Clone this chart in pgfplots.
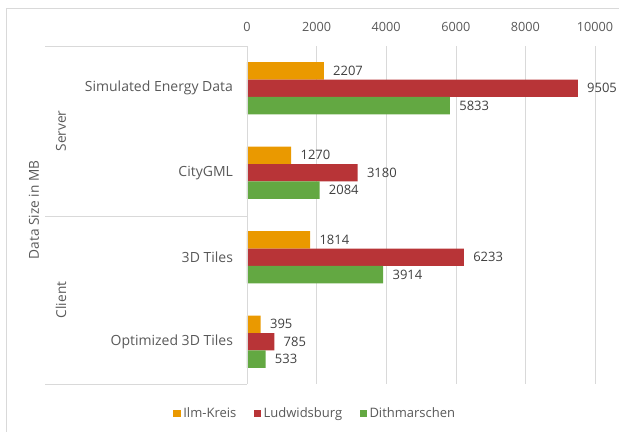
\documentclass[border=0pt]{standalone}
\usepackage{fontspec}
\setmainfont{Open Sans}
\usepackage{pgfplots}
\pgfplotsset{compat=1.18}
\definecolor{ilm}{RGB}{234,153,0}
\definecolor{lud}{RGB}{184,52,55}
\definecolor{dit}{RGB}{99,168,66}
\definecolor{txtgray}{RGB}{89,89,89}
\definecolor{valgray}{RGB}{64,64,64}
\definecolor{linegray}{RGB}{217,217,217}
\begin{document}
\begin{tikzpicture}[x=0.75pt,y=0.75pt,font=\fontsize{10}{12}\selectfont]
\useasboundingbox (0,0) rectangle (619,432);
\draw[linegray] (6,-2) -- (6,424) -- (622,424);
\begin{axis}[
  at={(185.25pt,36pt)}, anchor=south west,
  scale only axis, width=261pt, height=253.5pt,
  xbar, bar width=13.1pt,
  xmin=0, xmax=10000, ymin=-0.5, ymax=3.5,
  axis line style={draw=none},
  major tick length=0pt,
  xtick={0,2000,4000,6000,8000,10000},
  xticklabel pos=upper,
  scaled x ticks=false,
  /pgf/number format/assume math mode=true,
  /pgf/number format/1000 sep={},
  xmajorgrids, major grid style={linegray},
  ytick={0,1,2,3},
  yticklabels={Optimized 3D Tiles, 3D Tiles, CityGML, Simulated Energy Data},
  xticklabel style={text=txtgray, font=\fontsize{9.5}{11}\selectfont, yshift=7.5pt},
  yticklabel style={text=txtgray, font=\fontsize{10.5}{12}\selectfont, xshift=-7pt},
  nodes near coords,
  nodes near coords style={anchor=west, text=valgray, font=\fontsize{9.75}{11}\selectfont, xshift=3.5pt},
  legend style={at={(0.197,-0.088)}, anchor=center, draw=none, legend columns=3,
     font=\fontsize{9.75}{11}\selectfont, text=txtgray,
     /tikz/every even column/.append style={column sep=11pt}},
  legend image code/.code={\fill[#1] (0pt,-2.5pt) rectangle (5.5pt,3pt);},
]
\addplot[fill=ilm, draw=none, bar shift=13.1pt] coordinates {(2207,3) (1270,2) (1814,1) (395,0)};
\addlegendentry{Ilm-Kreis}
\addplot[fill=lud, draw=none, bar shift=0pt] coordinates {(9505,3) (3180,2) (6233,1) (785,0)};
\addlegendentry{Ludwidsburg}
\addplot[fill=dit, draw=none, bar shift=-13.1pt] coordinates {(5833,3) (2084,2) (3914,1) (533,0)};
\addlegendentry{Dithmarschen}
\end{axis}
\draw[linegray] (45,386) -- (247,386);
\draw[linegray] (45,216) -- (247,216);
\draw[linegray] (45,48) -- (247,48);
\draw[linegray] (247,48) -- (247,386);
\node[rotate=90, text=txtgray, font=\fontsize{10.25}{12}\selectfont] at (61,301) {Server};
\node[rotate=90, text=txtgray, font=\fontsize{10.25}{12}\selectfont] at (61,132) {Client};
\node[rotate=90, text=txtgray, font=\fontsize{10.25}{12}\selectfont] at (34,222) {Data Size in MB};
\end{tikzpicture}
\end{document}
